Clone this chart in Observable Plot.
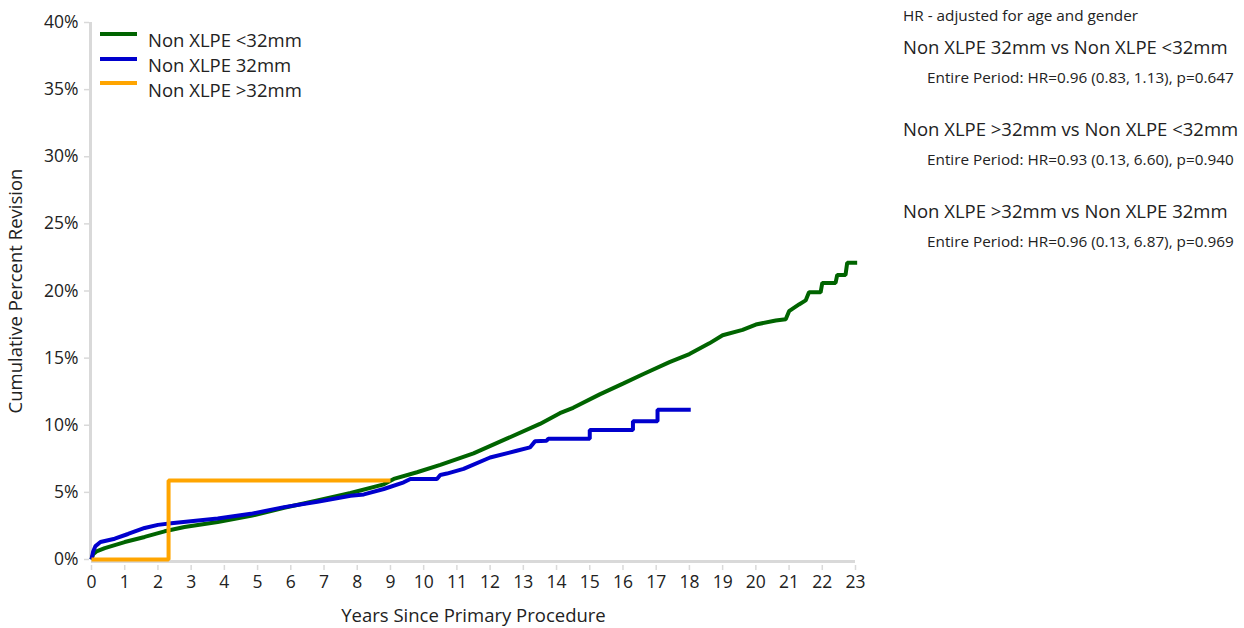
<!DOCTYPE html>
<html>
<head>
<meta charset="utf-8">
<script src="https://cdn.jsdelivr.net/npm/d3@7"></script>
<script src="https://cdn.jsdelivr.net/npm/@observablehq/plot@0.6"></script>
<style>
  html, body { margin: 0; padding: 0; background: #fff; }
  body { width: 1244px; height: 628px; position: relative; overflow: hidden; font-family: "Open Sans", "Noto Sans", sans-serif; color: #222; }
  #chart { position: absolute; left: 0; top: 0; }
  #chart g[aria-label="x-axis label"], #chart g[aria-label="y-axis label"] { font-size: 18.5px; }
  #legend { position: absolute; left: 100px; top: 27px; font-size: 18.5px; line-height: 25px; }
  #legend .row { display: flex; align-items: center; height: 24.8px; }
  #legend .sw { width: 37px; height: 4px; margin-right: 11px; margin-top: -11px; }
  #panel { position: absolute; left: 903px; top: 5px; }
  #panel .note { font-size: 15.3px; position: absolute; white-space: nowrap; }
  #panel .head { font-size: 18.5px; position: absolute; white-space: nowrap; }
  #panel .sub { font-size: 15.3px; position: absolute; left: 24px; white-space: nowrap; }
</style>
</head>
<body>
<div id="chart"></div>
<div id="legend"></div>
<div id="panel"></div>
<script>
// Series names and colours
const seriesNames = ["Non XLPE <32mm", "Non XLPE 32mm", "Non XLPE >32mm"];
const seriesColors = ["#006400", "#0000CD", "#FFA500"];

// Non XLPE <32mm (years, cumulative percent revision)
const smallYears = [0, 0.05, 0.15, 0.4, 1.0, 1.6, 2.2, 2.8, 3.8, 4.8, 5.8, 6.8, 7.8, 8.8, 9.1, 9.8, 10.5, 11.5, 12.5, 13.5, 14.1, 14.5, 15.3, 16.0, 16.6, 17.4, 18.0, 18.6, 19.0, 19.6, 20.0, 20.6, 20.9, 21.0, 21.3, 21.5, 21.6, 21.95, 22.0, 22.4, 22.45, 22.7, 22.75, 23.05];
const smallPct   = [0, 0.4, 0.6, 0.85, 1.3, 1.68, 2.1, 2.42, 2.8, 3.25, 3.85, 4.4, 4.95, 5.6, 6.0, 6.5, 7.05, 7.9, 9.0, 10.1, 10.9, 11.3, 12.3, 13.1, 13.8, 14.7, 15.3, 16.1, 16.7, 17.1, 17.5, 17.8, 17.9, 18.5, 19.0, 19.3, 19.9, 19.9, 20.6, 20.6, 21.2, 21.2, 22.1, 22.1];

// Non XLPE 32mm
const midYears = [0, 0.05, 0.12, 0.27, 0.7, 1.1, 1.6, 2.0, 2.4, 3.8, 4.8, 5.8, 6.8, 7.8, 8.2, 8.8, 9.4, 9.6, 10.4, 10.5, 10.7, 11.2, 12.0, 12.8, 13.2, 13.35, 13.7, 13.75, 15.0, 15.0, 16.3, 16.3, 17.04, 17.04, 18.04];
const midPct   = [0, 0.6, 1.0, 1.3, 1.55, 1.9, 2.35, 2.58, 2.7, 3.05, 3.4, 3.9, 4.3, 4.75, 4.85, 5.25, 5.75, 6.0, 6.0, 6.3, 6.4, 6.75, 7.6, 8.1, 8.35, 8.8, 8.85, 9.0, 9.0, 9.65, 9.65, 10.3, 10.3, 11.15, 11.15];

// Non XLPE >32mm
const largeYears = [0, 2.32, 2.32, 9.0];
const largePct   = [0, 0, 5.88, 5.88];

// Axis ticks
const xTicks = d3.range(0, 24);
const yTicks = [0, 5, 10, 15, 20, 25, 30, 35, 40];

// HR panel text
const hrNote = "HR - adjusted for age and gender";
const hrHeads = ["Non XLPE 32mm vs Non XLPE <32mm", "Non XLPE >32mm vs Non XLPE <32mm", "Non XLPE >32mm vs Non XLPE 32mm"];
const hrSubs = ["Entire Period: HR=0.96 (0.83, 1.13), p=0.647", "Entire Period: HR=0.93 (0.13, 6.60), p=0.940", "Entire Period: HR=0.96 (0.13, 6.87), p=0.969"];

const rows = [];
[[smallYears, smallPct], [midYears, midPct], [largeYears, largePct]].forEach(([xs, ys], i) => {
  xs.forEach((x, j) => rows.push({series: seriesNames[i], year: x, pct: ys[j]}));
});

const chart = Plot.plot({
  width: 880,
  height: 628,
  marginLeft: 91,
  marginRight: 25,
  marginTop: 22,
  marginBottom: 69,
  style: {fontFamily: '"Open Sans", "Noto Sans", sans-serif', color: "#222", background: "#fff"},
  x: {domain: [0, 23]},
  y: {domain: [0, 40]},
  color: {domain: seriesNames, range: seriesColors},
  marks: [
    Plot.ruleX([0], {stroke: "#d9d9d9", strokeWidth: 3, dx: -1}),
    Plot.ruleY([0], {stroke: "#d9d9d9", strokeWidth: 3, dy: 2}),
    Plot.axisY({ticks: yTicks, tickFormat: d => d + "%", tickSize: 5, tickPadding: 6, stroke: "#d9d9d9", strokeWidth: 1.5, fill: "#222", fontSize: 17.5,
      label: "Cumulative Percent Revision", labelAnchor: "center", labelArrow: "none", labelOffset: 83, dx: -2}),
    Plot.axisX({ticks: xTicks, tickFormat: d => String(d), tickSize: 5, tickPadding: 5, stroke: "#d9d9d9", strokeWidth: 1.5, fill: "#222", fontSize: 17.5,
      label: "Years Since Primary Procedure", labelAnchor: "center", labelArrow: "none", labelOffset: 62, dy: 6}),
    Plot.line(rows, {x: "year", y: "pct", z: "series", stroke: "series", strokeWidth: 4, curve: "linear", strokeLinejoin: "miter", strokeLinecap: "butt"})
  ]
});
document.getElementById("chart").appendChild(chart);

// Legend
const legend = document.getElementById("legend");
seriesNames.forEach((n, i) => {
  const r = document.createElement("div");
  r.className = "row";
  const s = document.createElement("span");
  s.className = "sw";
  s.style.background = seriesColors[i];
  const t = document.createElement("span");
  t.textContent = n;
  r.appendChild(s); r.appendChild(t);
  legend.appendChild(r);
});

// HR panel
const panel = document.getElementById("panel");
const note = document.createElement("div");
note.className = "note"; note.style.top = "0px"; note.textContent = hrNote;
panel.appendChild(note);
const headTops = [29, 111, 193];
hrHeads.forEach((h, i) => {
  const d = document.createElement("div");
  d.className = "head"; d.style.top = headTops[i] + "px"; d.textContent = h;
  panel.appendChild(d);
  const s = document.createElement("div");
  s.className = "sub"; s.style.top = (headTops[i] + 33) + "px"; s.textContent = hrSubs[i];
  panel.appendChild(s);
});
</script>
</body>
</html>
